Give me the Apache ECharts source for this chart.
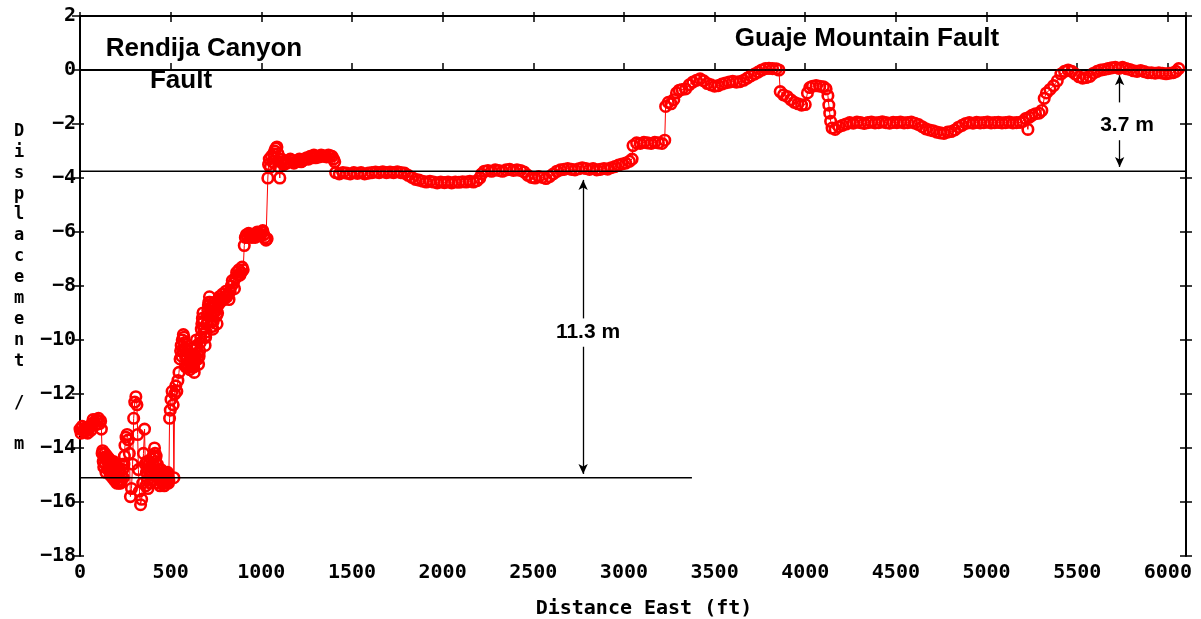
<!DOCTYPE html>
<html>
<head>
<meta charset="utf-8">
<script src="https://cdn.jsdelivr.net/npm/echarts@6/dist/echarts.min.js"></script>
<style>
html,body{margin:0;padding:0;background:#fff;}
#chart{width:1201px;height:619px;}
</style>
</head>
<body>
<div id="chart"></div>
<script>
// Axis ranges / ticks
const xRange = [0, 6100];
const xTickStep = 500;
const yRange = [-18, 2];
const yTickStep = 2;

// Measured displacement profile [distance east (ft), displacement (m)]
const profilePoints = [
 [0,-13.3],[6,-13.45],[12,-13.2],[18,-13.35],[24,-13.4],[30,-13.25],[36,-13.35],[42,-13.45],[48,-13.3],[54,-13.2],[60,-13.35],[66,-13.1],[72,-12.95],[78,-13.05],[84,-13.15],[90,-12.95],[96,-13.0],[102,-12.9],[108,-13.1],[114,-13.0],[118,-13.3],
 [122,-14.2],[125,-14.1],[128,-14.5],[131,-14.7],[134,-14.35],[137,-14.2],[140,-14.6],[143,-14.9],[146,-14.4],[149,-14.3],[152,-14.5],[155,-14.8],[158,-14.7],[161,-14.4],[164,-14.55],[167,-15.0],[170,-14.8],[173,-14.5],[176,-14.65],[179,-15.1],[182,-14.9],[185,-14.5],[188,-14.75],[191,-15.2],[194,-14.95],[197,-14.6],[200,-14.8],[203,-15.3],[206,-15.05],[209,-14.7],[212,-15.2],[215,-15.3],[218,-14.9],[221,-14.8],[224,-15.3],[227,-15.2],[230,-15.0],[233,-14.6],[236,-14.8],[239,-15.1],[242,-14.6],[245,-14.3],
 [248,-13.9],[254,-13.6],[260,-13.5],[266,-13.7],[272,-14.2],[278,-15.8],[284,-15.5],[290,-14.6],[296,-12.9],[302,-12.3],[308,-12.1],[314,-12.4],[318,-13.5],[322,-14.8],[328,-15.6],[334,-16.1],[340,-15.9],[346,-15.3],[350,-14.2],[356,-13.3],
 [360,-14.6],[363,-15.4],[366,-14.9],[369,-14.5],[372,-15.2],[375,-15.5],[378,-14.8],[381,-14.6],[384,-15.0],[387,-15.3],[390,-14.7],[393,-14.4],[396,-14.9],[399,-15.2],[402,-14.6],[405,-14.3],[408,-14.3],[411,-14.0],[414,-14.2],[417,-14.5],[420,-14.3],[423,-14.9],[426,-14.6],[429,-15.3],[432,-14.9],[435,-14.8],[438,-15.1],[441,-15.4],[444,-15.0],[447,-14.8],[450,-15.2],[453,-15.3],[456,-15.0],[459,-14.9],[462,-15.3],[465,-15.4],[468,-15.1],[471,-14.9],[474,-15.2],[477,-15.3],[480,-15.0],[483,-14.9],[486,-15.1],[488,-15.3],[490,-15.2],
 [494,-12.9],[498,-12.6],[502,-12.2],[508,-11.9],[514,-12.4],[518,-15.1],[522,-12.0],[528,-11.7],[534,-11.9],[540,-11.5],[546,-11.2],
 [552,-10.7],[555,-10.4],[558,-10.2],[561,-10.6],[564,-10.0],[567,-10.4],[570,-9.8],[573,-9.9],[576,-10.1],[579,-10.3],[582,-10.6],[585,-11.0],[588,-10.9],[591,-10.6],[594,-10.4],[597,-11.0],[600,-10.8],[603,-10.5],[606,-11.1],[609,-10.9],[612,-10.7],[615,-11.0],[618,-10.3],[621,-10.6],[624,-10.9],[627,-11.0],[630,-11.2],[633,-10.8],[636,-10.6],[639,-10.3],[642,-10.0],[645,-10.2],[648,-10.5],[651,-10.7],[654,-10.9],[657,-10.6],[660,-10.4],[663,-10.1],[666,-9.9],[669,-9.6],[672,-9.4],[675,-9.2],[678,-9.0],[681,-9.3],[684,-9.6],[687,-9.9],[690,-10.2],[693,-9.9],[696,-9.7],[699,-9.4],[702,-9.1],[705,-8.9],[708,-8.7],[711,-8.6],[714,-8.4],[717,-8.6],[720,-8.8],[723,-9.0],[726,-9.3],[729,-9.5],[732,-9.6],[735,-9.3],[738,-9.0],[741,-8.8],[744,-8.6],[747,-8.7],[750,-8.9],[753,-9.1],[756,-9.4],[759,-9.0],[762,-8.7],[765,-8.5],[768,-8.4],[771,-8.5],[774,-8.6],[780,-8.5],
 [786,-8.3],[792,-8.5],[798,-8.4],[804,-8.2],[810,-8.4],[816,-8.3],[822,-8.5],[828,-8.2],[834,-8.0],[840,-7.8],[846,-7.9],[852,-8.1],[858,-7.7],[864,-7.5],[870,-7.6],[876,-7.4],[882,-7.6],[888,-7.5],[894,-7.3],[900,-7.4],[906,-6.5],[912,-6.2],[918,-6.1],[924,-6.2],[930,-6.05],[936,-6.15],[942,-6.1],[948,-6.2],[954,-6.1],[960,-6.15],[966,-6.2],[972,-6.1],[978,-6.0],[984,-6.05],[990,-6.15],[996,-6.1],[1002,-6.0],[1008,-5.95],[1014,-6.1],[1020,-6.2],[1026,-6.3],[1032,-6.25],
 [1036,-4.0],[1040,-3.5],[1044,-3.3],[1050,-3.6],[1056,-3.2],[1062,-3.4],[1068,-3.1],[1074,-3.0],[1080,-2.9],[1086,-2.85],[1092,-3.1],[1098,-3.6],[1102,-4.0],[1106,-3.4],[1112,-3.3],[1118,-3.4],[1124,-3.5],[1130,-3.45],
 [1140,-3.45],[1150,-3.4],[1160,-3.3],[1170,-3.35],[1180,-3.45],[1190,-3.4],[1200,-3.35],[1210,-3.3],[1220,-3.4],[1230,-3.35],[1240,-3.3],[1250,-3.25],[1260,-3.3],[1270,-3.2],[1280,-3.25],[1290,-3.15],[1300,-3.25],[1310,-3.2],[1320,-3.22],[1330,-3.15],[1340,-3.18],[1350,-3.2],[1360,-3.22],[1370,-3.15],[1380,-3.18],[1390,-3.2],[1398,-3.3],[1405,-3.4],[1410,-3.8],
 [1430,-3.85],[1450,-3.8],[1470,-3.82],[1490,-3.85],[1510,-3.8],[1530,-3.83],[1550,-3.8],[1570,-3.85],[1590,-3.82],[1610,-3.8],[1630,-3.78],[1650,-3.8],[1670,-3.77],[1690,-3.8],[1710,-3.78],[1730,-3.8],[1750,-3.77],[1770,-3.8],[1790,-3.82],[1810,-3.9],[1830,-3.98],[1850,-4.05],[1870,-4.08],[1890,-4.12],[1910,-4.15],[1930,-4.12],[1950,-4.15],[1970,-4.18],[1990,-4.15],[2010,-4.17],[2030,-4.15],[2050,-4.18],[2070,-4.15],[2090,-4.16],[2110,-4.14],[2130,-4.15],[2150,-4.12],[2170,-4.15],[2190,-4.1],[2205,-4.0],[2215,-3.85],[2230,-3.75],[2250,-3.72],[2270,-3.75],[2290,-3.7],[2310,-3.72],[2330,-3.75],[2350,-3.7],[2370,-3.68],[2390,-3.72],[2410,-3.7],[2430,-3.72],[2450,-3.78],[2470,-3.9],[2490,-3.98],[2510,-4.0],[2530,-3.95],[2550,-3.98],[2570,-4.02],[2590,-3.95],[2610,-3.85],[2630,-3.75],[2650,-3.7],[2670,-3.68],[2690,-3.65],[2710,-3.68],[2730,-3.7],[2750,-3.66],[2770,-3.62],[2790,-3.65],[2810,-3.68],[2830,-3.65],[2850,-3.7],[2870,-3.68],[2890,-3.65],[2910,-3.67],[2930,-3.62],[2950,-3.58],[2970,-3.52],[2990,-3.48],[3010,-3.45],[3030,-3.38],[3045,-3.3],
 [3050,-2.8],[3070,-2.7],[3090,-2.72],[3110,-2.68],[3130,-2.7],[3150,-2.72],[3170,-2.68],[3190,-2.7],[3210,-2.72],[3225,-2.6],[3230,-1.35],[3245,-1.2],[3260,-1.25],[3275,-1.1],[3290,-0.85],[3305,-0.75],[3320,-0.72],[3340,-0.7],[3360,-0.55],[3380,-0.45],[3400,-0.38],[3420,-0.33],[3440,-0.4],[3460,-0.5],[3480,-0.55],[3500,-0.6],[3520,-0.58],[3540,-0.52],[3560,-0.48],[3580,-0.45],[3600,-0.42],[3620,-0.45],[3640,-0.43],[3660,-0.38],[3680,-0.3],[3700,-0.22],[3720,-0.15],[3740,-0.08],[3760,0.0],[3780,0.05],[3800,0.06],[3820,0.05],[3840,0.04],[3855,0.0],
 [3862,-0.8],[3880,-0.92],[3900,-0.98],[3920,-1.1],[3940,-1.2],[3960,-1.25],[3980,-1.3],[4000,-1.28],[4012,-0.85],[4025,-0.65],[4040,-0.6],[4060,-0.58],[4080,-0.6],[4100,-0.62],[4115,-0.7],[4125,-0.95],[4130,-1.3],[4135,-1.6],[4140,-1.9],[4148,-2.15],[4165,-2.2],[4185,-2.1],[4205,-2.05],[4225,-2.0],[4245,-1.95],[4265,-1.97],[4285,-1.93],[4305,-1.95],[4325,-1.98],[4345,-1.95],[4365,-1.93],[4385,-1.96],[4405,-1.95],[4425,-1.92],[4445,-1.95],[4465,-1.97],[4485,-1.94],[4505,-1.95],[4525,-1.93],[4545,-1.96],[4565,-1.95],[4585,-1.93],[4605,-1.97],[4625,-2.02],[4645,-2.1],[4665,-2.18],[4685,-2.22],[4705,-2.25],[4725,-2.3],[4745,-2.33],[4765,-2.35],[4785,-2.3],[4805,-2.28],[4825,-2.22],[4845,-2.12],[4865,-2.05],[4885,-1.98],[4905,-1.95],[4925,-1.97],[4945,-1.94],[4965,-1.96],[4985,-1.95],[5005,-1.93],[5025,-1.96],[5045,-1.95],[5065,-1.94],[5085,-1.96],[5105,-1.95],[5125,-1.93],[5145,-1.96],[5165,-1.95],[5185,-1.94],[5200,-1.9],[5215,-1.8],[5228,-2.2],[5235,-1.75],[5250,-1.68],[5270,-1.62],[5290,-1.6],[5305,-1.5],[5318,-1.05],[5330,-0.85],[5350,-0.72],[5370,-0.58],[5390,-0.4],[5410,-0.15],[5430,-0.05],[5450,0.0],[5470,-0.05],[5490,-0.15],[5510,-0.25],[5530,-0.3],[5550,-0.28],[5570,-0.24],[5590,-0.12],[5610,-0.05],[5630,0.0],[5650,0.02],[5670,0.05],[5690,0.08],[5710,0.1],[5730,0.06],[5750,0.1],[5770,0.05],[5790,0.02],[5810,-0.03],[5830,-0.05],[5850,-0.02],[5870,-0.06],[5890,-0.1],[5910,-0.1],[5930,-0.12],[5950,-0.1],[5970,-0.12],[5990,-0.14],[6010,-0.12],[6030,-0.1],[6045,-0.05],[6060,0.05]
];

// Reference levels (horizontal lines)
const guajeLevel = [[2850, 0], [6100, 0]];
const middleLevel = [[0, -3.75], [6100, -3.75]];
const rendijaLevel = [[0, -15.1], [3375, -15.1]];

// Offset arrows: [x, from (gap end), to (arrow tip)]
const offsetArrows = [
  [2775, -9.2, -4.07],
  [2775, -10.25, -14.96],
  [5734, -1.2, -0.19],
  [5734, -2.6, -3.59]
];

// Annotation texts
const annotations = [
  {text: 'Rendija Canyon', x: 204, y: 49, size: 26},
  {text: 'Fault', x: 181, y: 81, size: 26},
  {text: 'Guaje Mountain Fault', x: 867, y: 39, size: 26},
  {text: '11.3 m', x: 588, y: 332, size: 21},
  {text: '3.7 m', x: 1127, y: 125, size: 21}
];
const yTitle = 'Displacement / m';
const xTitle = 'Distance East (ft)';

const mono = 'DejaVu Sans Mono';
const black = '#000';

const chart = echarts.init(document.getElementById('chart'), null, {renderer: 'canvas'});

const xBase = {type: 'value', min: xRange[0], max: xRange[1], interval: xTickStep, splitLine: {show: false}};
const yBase = {type: 'value', min: yRange[0], max: yRange[1], interval: yTickStep, splitLine: {show: false}};

const option = {
  animation: false,
  backgroundColor: '#fff',
  grid: {left: 80, right: 15, top: 16, bottom: 63, containLabel: false, outerBoundsMode: 'none'},
  xAxis: [
    Object.assign({}, xBase, {
      position: 'bottom',
      axisLine: {show: true, lineStyle: {color: black, width: 2}},
      axisTick: {show: true, inside: true, length: 7, lineStyle: {color: black, width: 1.5}},
      axisLabel: {
        color: black, fontFamily: mono, fontWeight: 'bold', fontSize: 20, margin: 7,
        formatter: v => (v % xTickStep === 0 ? String(v) : '')
      },
      name: xTitle, nameLocation: 'middle', nameGap: 43,
      nameTextStyle: {color: black, fontFamily: mono, fontWeight: 'bold', fontSize: 20, padding: [0, 0, 0, 22]}
    }),
    Object.assign({}, xBase, {
      position: 'top',
      axisLine: {show: true, onZero: false, lineStyle: {color: black, width: 2}},
      axisTick: {show: true, inside: true, length: 6, lineStyle: {color: black, width: 1.5}},
      axisLabel: {show: false}
    }),
    Object.assign({}, xBase, {
      position: 'top',
      axisLine: {show: false, onZero: false},
      axisTick: {show: true, inside: false, length: 4, lineStyle: {color: black, width: 1.5}},
      axisLabel: {show: false}
    })
  ],
  yAxis: [
    Object.assign({}, yBase, {
      position: 'left',
      axisLine: {show: true, onZero: false, lineStyle: {color: black, width: 2}},
      axisTick: {show: true, inside: false, length: 8, lineStyle: {color: black, width: 1.5}},
      axisLabel: {
        color: black, fontFamily: mono, fontWeight: 'bold', fontSize: 20, margin: 4,
        formatter: v => String(v).replace('-', '\u2212')
      }
    }),
    Object.assign({}, yBase, {
      position: 'left', offset: 0,
      axisLine: {show: false, onZero: false},
      axisTick: {show: true, inside: true, length: 4, lineStyle: {color: black, width: 1.5}},
      axisLabel: {show: false}
    }),
    Object.assign({}, yBase, {
      position: 'right', offset: 0,
      axisLine: {show: true, onZero: false, lineStyle: {color: black, width: 2}},
      axisTick: {show: true, inside: true, length: 6, lineStyle: {color: black, width: 1.5}},
      axisLabel: {show: false}
    }),
    Object.assign({}, yBase, {
      position: 'right', offset: 0,
      axisLine: {show: false, onZero: false},
      axisTick: {show: true, inside: false, length: 6, lineStyle: {color: black, width: 1.5}},
      axisLabel: {show: false}
    })
  ],
  series: [
    {
      name: 'Displacement',
      type: 'line',
      data: profilePoints,
      xAxisIndex: 0, yAxisIndex: 0,
      symbol: 'circle', symbolSize: 10.5, showSymbol: true, showAllSymbol: true,
      itemStyle: {color: 'rgba(255,0,0,0)', borderColor: '#ff0000', borderWidth: 2.6},
      lineStyle: {color: '#ff0000', width: 1},
      emphasis: {disabled: true},
      silent: true, z: 3
    },
    {
      name: 'Guaje level', type: 'line', data: guajeLevel, symbol: 'none',
      lineStyle: {color: black, width: 1.5}, silent: true, z: 5
    },
    {
      name: 'Middle level', type: 'line', data: middleLevel, symbol: 'none',
      lineStyle: {color: black, width: 1.5}, silent: true, z: 5
    },
    {
      name: 'Rendija level', type: 'line', data: rendijaLevel, symbol: 'none',
      lineStyle: {color: black, width: 1.5}, silent: true, z: 5,
      markLine: {
        silent: true, animation: false,
        symbol: ['none', 'arrow'], symbolSize: [7, 10],
        label: {show: false},
        lineStyle: {color: black, width: 1.3, type: 'solid'},
        emphasis: {disabled: true},
        data: offsetArrows.map(a => [{coord: [a[0], a[1]]}, {coord: [a[0], a[2]]}])
      }
    }
  ],
  graphic: annotations.map(a => ({
    type: 'text', x: a.x, y: a.y, silent: true, z: 10,
    style: {
      text: a.text, fill: black, textAlign: 'center', textVerticalAlign: 'middle',
      font: 'bold ' + a.size + 'px "Liberation Sans", Arial, sans-serif'
    }
  })).concat([{
    type: 'text', x: 19, y: 121, silent: true, z: 10,
    style: {
      text: yTitle.split('').join('\n'), fill: black, textAlign: 'center', textVerticalAlign: 'top',
      font: 'bold 17px "' + mono + '"', lineHeight: 20.9
    }
  }])
};
chart.setOption(option);
</script>
</body>
</html>
